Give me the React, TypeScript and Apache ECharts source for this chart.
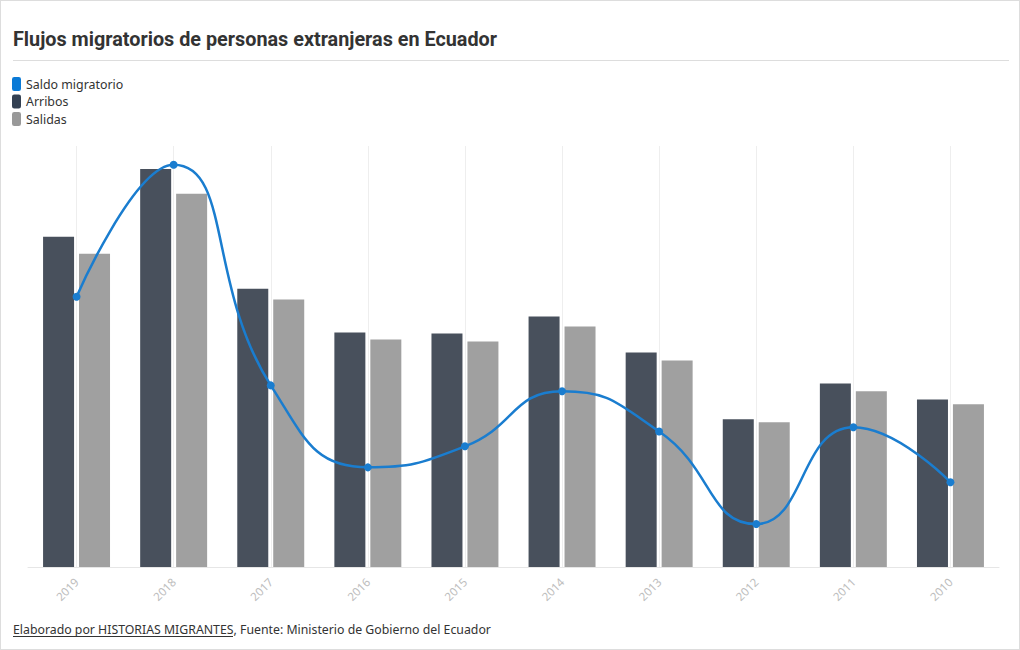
import React, { useEffect, useRef } from "react";
import * as echarts from "echarts";

const years = ["2019", "2018", "2017", "2016", "2015", "2014", "2013", "2012", "2011", "2010"];
const arribos = [1961000, 2364000, 1653000, 1392000, 1386000, 1487000, 1274000, 877000, 1090000, 995000];
const salidas = [1860000, 2216000, 1588000, 1351000, 1339000, 1428000, 1226000, 859000, 1043000, 966000];
const saldo = [96300, 143300, 64700, 35500, 43000, 62600, 48300, 15300, 49800, 30200];

const titleText = "Flujos migratorios de personas extranjeras en Ecuador";
const creditText = "Elaborado por HISTORIAS MIGRANTES";
const sourceText = ", Fuente: Ministerio de Gobierno del Ecuador";

const BLUE = "#1a7dcf";
const DARK = "#48505c";
const GREY = "#a0a0a0";

export default function App() {
  const ref = useRef<HTMLDivElement>(null);
  useEffect(() => {
    if (!ref.current) return;
    const chart = echarts.init(ref.current, null, { renderer: "svg" });
    chart.setOption({
      animation: false,
      backgroundColor: "#fff",
      textStyle: { fontFamily: "'Noto Sans', sans-serif" },
      legend: {
        orient: "vertical",
        left: 6,
        top: 71,
        itemWidth: 9,
        itemHeight: 14,
        itemGap: 3.5,
        icon: "roundRect",
        textStyle: { fontSize: 12.4, color: "#333", fontFamily: "'Noto Sans', sans-serif" },
        data: [
          { name: "Saldo migratorio", itemStyle: { color: "#0a7ad6" } },
          { name: "Arribos", itemStyle: { color: "#334052" } },
          { name: "Salidas", itemStyle: { color: "#999" } },
        ],
      },
      grid: { left: 27, right: 20, top: 145, bottom: 82, containLabel: false },
      xAxis: {
        type: "category",
        data: years,
        axisLine: { lineStyle: { color: "#e6e6e6" } },
        axisTick: { alignWithLabel: true, length: 10, lineStyle: { color: "#e6e6e6" } },
        splitLine: { show: true, alignWithLabel: true, lineStyle: { color: "#eeeeee" } },
        axisLabel: { rotate: 45, color: "#bdbdbd", fontSize: 11.5, margin: 13, fontFamily: "'Noto Sans', sans-serif" },
      },
      yAxis: [
        { type: "value", min: 0, max: 2500000, show: false, splitLine: { show: false } },
        { type: "value", min: 0, max: 150000, show: false, splitLine: { show: false } },
      ],
      series: [
        {
          name: "Arribos",
          type: "bar",
          data: arribos,
          barWidth: 31,
          barGap: "16%",
          itemStyle: { color: DARK },
          yAxisIndex: 0,
        },
        {
          name: "Salidas",
          type: "bar",
          data: salidas,
          barWidth: 31,
          itemStyle: { color: GREY },
          yAxisIndex: 0,
        },
        {
          name: "Saldo migratorio",
          type: "line",
          data: saldo,
          yAxisIndex: 1,
          smooth: 0.5,
          symbol: "circle",
          symbolSize: 8,
          lineStyle: { color: BLUE, width: 2.5 },
          itemStyle: { color: BLUE },
          z: 5,
        },
      ],
      graphic: [
        {
          type: "text",
          left: 12,
          top: 27,
          style: {
            text: titleText,
            font: "bold 21px Roboto",
            fill: "#333",
          },
          scaleX: 0.943,
        },
        {
          type: "line",
          shape: { x1: 12, y1: 59.5, x2: 1008, y2: 59.5 },
          style: { stroke: "#dddddd", lineWidth: 1 },
        },
        {
          type: "text",
          left: 12,
          top: 622,
          style: {
            text: "{a|" + creditText + "}{b|" + sourceText + "}",
            rich: {
              a: { fontSize: 12.3, fill: "#333", fontFamily: "'Noto Sans', sans-serif" },
              b: { fontSize: 12.3, fill: "#333", fontFamily: "'Noto Sans', sans-serif" },
            },
          },
        },
        {
          type: "line",
          shape: { x1: 12, y1: 635.5, x2: 232, y2: 635.5 },
          style: { stroke: "#333", lineWidth: 1 },
        },
      ],
    });
    return () => chart.dispose();
  }, []);
  return (
    <div
      style={{
        position: "absolute",
        left: 0,
        top: 0,
        width: 1020,
        height: 650,
        boxSizing: "border-box",
        border: "1px solid #dddddd",
        background: "#fff",
      }}
    >
      <div ref={ref} style={{ width: 1018, height: 648 }} />
    </div>
  );
}
